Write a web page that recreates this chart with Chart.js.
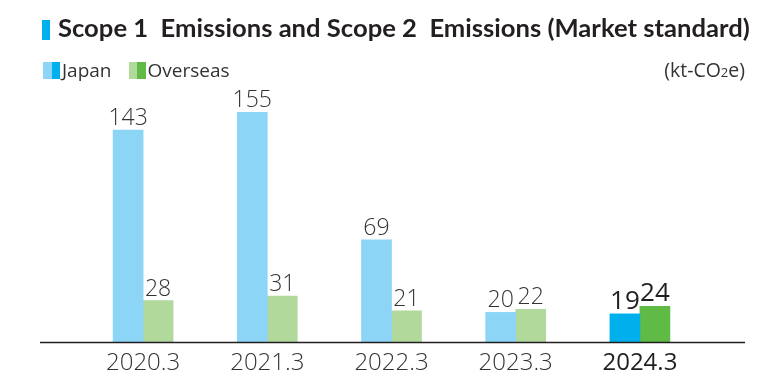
<!DOCTYPE html>
<html>
<head>
<meta charset="utf-8">
<script src="https://cdn.jsdelivr.net/npm/chart.js@4/dist/chart.umd.min.js"></script>
<style>
  html, body { margin:0; padding:0; background:#fff; }
  #wrap { position:relative; width:778px; height:382px; overflow:hidden; font-family:"Open Sans",sans-serif; color:#231f20; }
  #c { position:absolute; left:0; top:0; }
  #title { position:absolute; left:42px; top:12px; white-space:nowrap; font-weight:700; font-size:24px; line-height:30px; font-family:"Lato","Open Sans",sans-serif; }
  #title .mk { display:inline-block; width:8px; height:20px; background:#00b0ec; vertical-align:-3px; margin-right:8px; }
  #legend { position:absolute; left:43px; top:58px; font-size:19px; line-height:24px; white-space:nowrap; color:#333; }
  #legend .sw { display:inline-block; width:8.5px; height:17px; vertical-align:-2px; }
  #legend .item { display:inline-block; }
  #legend .lab { margin-left:2px; }
  #unit { position:absolute; right:33px; top:58px; font-size:19.5px; line-height:24px; color:#333; white-space:nowrap; }
</style>
</head>
<body>
<div id="wrap">
  <canvas id="c" width="778" height="382"></canvas>
  <div id="title"><span class="mk"></span><span id="tt">Scope 1&nbsp; Emissions and Scope 2&nbsp; Emissions (Market standard)</span></div>
  <div id="legend">
    <span class="item" style="margin-right:17px"><span class="sw" style="background:#8cd5f6"></span><span class="sw" style="background:#00b0ec"></span><span class="lab">Japan</span></span><span class="item"><span class="sw" style="background:#b1d99c"></span><span class="sw" style="background:#5fba46"></span><span class="lab">Overseas</span></span>
  </div>
  <div id="unit">(kt-CO<span style="font-size:13px">2</span>e)</div>
</div>
<script>
const categories = ["2020.3", "2021.3", "2022.3", "2023.3", "2024.3"];
const japan = [143, 155, 69, 20, 19];
const overseas = [28, 31, 21, 22, 24];
const japanColors = ["#8cd5f6", "#8cd5f6", "#8cd5f6", "#8cd5f6", "#00b0ec"];
const overseasColors = ["#b1d99c", "#b1d99c", "#b1d99c", "#b1d99c", "#5fba46"];

// fit title width
(function(){
  const tt = document.getElementById('tt');
  const target = 692;
  const w = tt.getBoundingClientRect().width;
  const fs = 24 * target / w;
  document.getElementById('title').style.fontSize = fs.toFixed(2) + 'px';
})();

const FONT = '"Open Sans",sans-serif';

const valueLabels = {
  id: 'valueLabels',
  afterDatasetsDraw(chart) {
    const ctx = chart.ctx;
    ctx.save();
    ctx.textAlign = 'center';
    ctx.textBaseline = 'alphabetic';
    chart.data.datasets.forEach((ds, di) => {
      const meta = chart.getDatasetMeta(di);
      meta.data.forEach((bar, i) => {
        const last = i === ds.data.length - 1;
        ctx.font = (last ? '400 26px ' : '300 23px ') + FONT;
        ctx.fillStyle = last ? '#231f20' : '#333333';
        ctx.fillText(String(ds.data[i]), bar.x, bar.y - 5);
      });
    });
    ctx.restore();
  }
};

const baseLine = {
  id: 'baseLine',
  afterDatasetsDraw(chart) {
    const ctx = chart.ctx;
    const y = chart.scales.y.getPixelForValue(0);
    ctx.save();
    ctx.strokeStyle = '#231f20';
    ctx.lineWidth = 1.5;
    ctx.beginPath();
    ctx.moveTo(40, y + 0.5);
    ctx.lineTo(745, y + 0.5);
    ctx.stroke();
    ctx.restore();
  }
};

new Chart(document.getElementById('c'), {
  type: 'bar',
  data: {
    labels: categories,
    datasets: [
      { label: 'Japan', data: japan, backgroundColor: japanColors, barThickness: 30 },
      { label: 'Overseas', data: overseas, backgroundColor: overseasColors, barThickness: 30 }
    ]
  },
  options: {
    responsive: false,
    animation: false,
    devicePixelRatio: 1,
    layout: { padding: { left: 81, right: 76, top: 105, bottom: 0 } },
    plugins: { legend: { display: false }, tooltip: { enabled: false }, title: { display: false } },
    scales: {
      x: {
        grid: { display: false, drawTicks: false },
        border: { display: false },
        ticks: {
          padding: 7,
          font: (c) => ({ family: FONT, size: 24, weight: c.index === 4 ? '400' : '300' }),
          color: (c) => c.index === 4 ? '#231f20' : '#333333',
          maxRotation: 0
        },
        afterFit: (s) => { s.height = 40; }
      },
      y: {
        display: false,
        min: 0,
        max: 160
      }
    }
  },
  plugins: [valueLabels, baseLine]
});
</script>
</body>
</html>
